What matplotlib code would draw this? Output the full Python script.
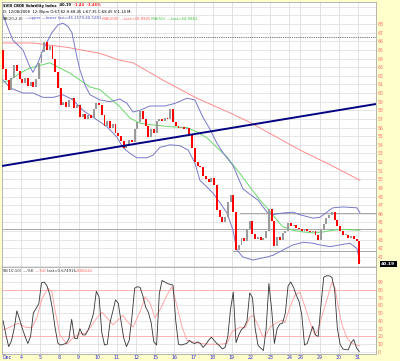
import matplotlib
matplotlib.use("Agg")
import matplotlib.pyplot as plt
import matplotlib.transforms as mtransforms
import numpy as np

W, H = 400, 361

# ---------------- data ----------------
first_open = 65.0
closes = [62.8, 61.5, 60.3, 61.8, 63.3, 62.5, 61.6, 61.2, 61.8, 60.8,
          61.3, 60.7, 61.6, 63.5, 64.8, 65.9, 65.0, 65.5, 64.0, 62.4,
          60.6, 58.6, 59.0, 58.4, 59.2, 59.4, 58.3, 58.6, 57.2, 57.6,
          57.0, 57.5, 57.1, 58.2, 58.9, 58.6, 57.4, 56.2, 56.8, 56.0,
          56.4, 55.4, 55.0, 54.4, 53.6, 54.0, 54.6, 54.3, 55.8, 56.6,
          57.9, 57.0, 56.2, 54.9, 55.8, 55.4, 56.8, 57.0, 56.8, 57.1,
          57.0, 58.2, 56.6, 56.2, 55.9, 56.1, 55.8, 55.9, 55.2, 53.6,
          52.0, 51.6, 51.4, 50.4, 50.0, 49.7, 50.1, 49.4, 46.5, 45.6,
          45.0, 45.6, 47.4, 48.2, 46.2, 41.8, 42.4, 43.2, 42.9, 44.2,
          45.2, 43.7, 43.1, 43.3, 43.0, 43.2, 44.0, 46.6, 45.2, 42.3,
          43.3, 43.0, 43.8, 44.0, 44.9, 44.6, 44.7, 44.4, 44.2, 44.0,
          44.2, 44.0, 43.9, 44.0, 43.6, 43.0, 44.1, 44.8, 45.5, 45.9,
          46.2, 45.3, 44.6, 44.0, 43.5, 43.5, 43.2, 43.4, 43.1, 42.9,
          40.19]

bb_upper_idx = [0, 2.3, 4.1, 7.7, 10.3, 11.4, 13.2, 15.0, 18.3, 20.5, 22.3, 24.2,
                25.6, 27.4, 28.5, 30.4, 32.2, 35.8, 39.5, 43.1, 45.7, 47.9, 50.4,
                54.1, 59.6, 63.2, 67.6, 70.5, 73.4, 76.0, 78.5, 80.7, 84.4, 88.0,
                91.7, 93.5, 96.8, 98.6, 102.6, 106.3, 108.8, 113.6, 116.1, 118.7,
                120.9, 124.5, 129.6, 130.7]
bb_upper = [69.4, 67.5, 66.1, 65.0, 63.0, 62.4, 63.5, 65.0, 67.0, 67.9, 68.1, 67.7,
            67.0, 64.2, 62.7, 60.9, 59.8, 59.2, 59.0, 59.3, 58.8, 57.8, 58.0,
            58.5, 58.5, 58.8, 59.4, 59.2, 57.2, 55.8, 54.2, 53.1, 51.6, 48.9,
            48.0, 47.6, 46.2, 45.9, 46.1, 46.2, 45.9, 45.5, 45.6, 46.2,
            46.7, 46.8, 46.7, 46.16]

bb_lower_idx = [0, 3.0, 7.7, 11.4, 15.0, 18.7, 22.3, 26.0, 29.6, 33.3, 38.4, 42.0,
                44.2, 46.8, 49.3, 53.0, 55.2, 57.7, 61.4, 65.0, 68.0, 70.5, 72.3,
                74.9, 77.1, 79.6, 82.2, 84.4, 85.8, 88.0, 91.7, 96.8, 99.0, 102.6,
                106.3, 110.0, 113.6, 116.1, 119.8, 123.4, 127.1, 129.6, 130.7]
bb_lower = [61.7, 60.6, 60.0, 60.0, 59.5, 59.5, 59.8, 59.2, 58.0, 57.2, 56.1, 54.9,
            53.7, 53.0, 52.5, 52.5, 52.8, 53.7, 54.0, 53.9, 53.4, 51.9, 49.9,
            49.1, 48.4, 47.3, 46.1, 44.1, 41.8, 41.0, 40.65, 41.0, 41.2, 41.8,
            42.4, 42.7, 42.6, 42.4, 42.2, 42.4, 42.6, 42.0, 40.53]

ma50_idx = [0, 3.0, 6.6, 10.3, 13.9, 17.6, 19.4, 21.2, 24.9, 28.5, 32.2, 35.8,
            39.5, 43.1, 46.8, 50.4, 55.2, 61.4, 67.6, 71.2, 74.9, 78.5, 82.2,
            85.1, 86.9, 90.6, 94.2, 96.8, 100.4, 102.6, 106.3, 110.0, 113.6,
            117.2, 120.9, 124.5, 130.7]
ma50 = [61.2, 61.5, 62.3, 62.9, 63.2, 63.5, 63.2, 62.9, 62.3, 61.5, 60.7, 60.4,
        59.4, 58.4, 57.1, 56.5, 56.3, 56.1, 56.0, 55.5, 54.8, 53.7, 52.6,
        51.4, 50.7, 49.1, 47.6, 46.7, 45.3, 44.5, 44.1, 43.9, 43.8,
        43.9, 44.1, 44.2, 44.09]

ma200_idx = [0, 11.4, 23.8, 35.8, 43.1, 47.9, 58.8, 71.2, 83.3, 90.6, 108.8,
             119.8, 130.7]
ma200 = [65.8, 65.8, 65.3, 64.6, 63.8, 63.5, 61.5, 59.4, 57.7, 56.6, 53.4,
         51.7, 49.89]

trend_idx = [0.07, 136.6]
trend_val = [51.55, 58.73]
dotted_level = 66.5
gray_levels = [46.1, 44.2, 41.7]
gray_from_idx = [87.0, 0.0, 84.4]

stoch_k = [40, 22, 7, 14, 30, 53, 42, 30, 20, 11,
           20, 50, 56, 62, 89, 90, 85, 74, 55, 30,
           11, 9, 10, 11, 17, 42, 18, 17, 30, 22,
           22, 28, 38, 50, 78, 71, 25, 9, 10, 38,
           52, 67, 63, 40, 18, 7, 15, 45, 82, 84,
           83, 72, 58, 51, 38, 13, 9, 75, 92, 90,
           88, 87, 86, 40, 10, 9, 10, 11, 15, 12,
           11, 13, 11, 6, 10, 15, 19, 15, 11, 8,
           4, 6, 20, 55, 77, 12, 22, 29, 32, 40,
           76, 70, 30, 9, 5, 2, 30, 88, 55, 11,
           30, 36, 37, 50, 85, 90, 83, 73, 65, 48,
           9, 11, 22, 33, 22, 20, 60, 96, 98, 98,
           96, 80, 30, 10, 4, 3, 3, 12, 16, 5,
           0.67]

stoch_d_idx = [0, 3.0, 5.9, 8.5, 11.0, 12.8, 14.7, 16.9, 18.3, 19.4, 21.2, 23.8,
               26.0, 28.5, 30.4, 32.2, 34.7, 36.6, 38.4, 40.6, 42.4, 44.2, 46.1,
               47.9, 50.4, 52.3, 54.1, 55.9, 57.7, 60.3, 62.1, 63.9, 65.8, 67.6,
               69.8, 72.3, 76.0, 79.6, 82.2, 84.0, 87.0, 88.8, 90.6, 91.7, 93.5,
               95.3, 96.8, 97.9, 100.4, 102.3, 103.4, 105.2, 107.0, 108.8, 110.7,
               112.5, 114.3, 115.4, 117.2, 119.0, 120.5, 121.6, 122.7, 124.2,
               126.0, 127.8, 129.6, 130.7]
stoch_d = [28, 32, 37, 32, 31, 44, 69, 82, 77, 54, 22, 10,
           18, 24, 24, 31, 44, 51, 44, 35, 41, 47, 38,
           32, 51, 71, 63, 44, 54, 73, 84, 60, 32, 15,
           13, 11, 10, 10, 11, 26, 32, 31, 45, 47, 35,
           19, 24, 32, 38, 41, 38, 58, 73, 77, 58,
           38, 22, 28, 50, 71, 90, 83, 60, 35,
           18, 11, 9, 8.08]

day_labels = ["Dec", "4", "5", "8", "9", "10", "11", "12", "15", "16", "17",
              "18", "19", "22", "23", "24", "26", "29", "30", "31"]
day_start_idx = [0, 7, 14, 21, 28, 35, 42, 49, 56, 63, 70,
                 77, 84, 91, 98, 105, 109, 116, 123, 130]

price_ticks = list(range(41, 69))
stoch_ticks = list(range(0, 100, 10))

# ---------------- figure ----------------
fig = plt.figure(figsize=(W / 100, H / 100), dpi=100, facecolor="#ffffcc")

def px_rect(x0, y0, x1, y1):
    return [x0 / W, 1 - y1 / H, (x1 - x0) / W, (y1 - y0) / H]

ax = fig.add_axes(px_rect(2, 2, 376, 267))
ax2 = fig.add_axes(px_rect(2, 267, 376, 353.5))

XMIN, XMAX = 0.07, 136.6
GRID = "#dcdcdc"
SPINE = "#a8a8a8"

for a in (ax, ax2):
    a.set_facecolor("white")
    a.set_xlim(XMIN, XMAX)
    for s in a.spines.values():
        s.set_color(SPINE)
        s.set_linewidth(0.6)
    a.set_xticks([])
    for d in day_start_idx[1:]:
        a.axvline(d, color=GRID, lw=0.6, zorder=0)

# main panel
ax.set_ylim(39.84, 70.55)
for v in range(40, 71):
    ax.axhline(v, color=GRID, lw=0.5, zorder=0)
ax.yaxis.set_ticks_position("right")
ax.set_yticks(price_ticks)
ax.set_yticklabels([str(t) for t in price_ticks])
ax.tick_params(axis="y", length=0, pad=1.2, labelsize=3.3, labelcolor="#ff7070",
               labelleft=False, labelright=True)

for lvl, start in zip(gray_levels, gray_from_idx):
    ax.plot([start, XMAX], [lvl, lvl], color="#9a9a9a", lw=0.6, zorder=1)
ax.axhline(dotted_level, color="#444444", lw=0.6, ls=(0, (1, 1.2)), zorder=1)

ax.plot(ma200_idx, ma200, color="#ff8c8c", lw=0.7, zorder=2)
ax.plot(ma50_idx, ma50, color="#6ad86a", lw=0.7, zorder=2)
ax.plot(bb_upper_idx, bb_upper, color="#7878c8", lw=0.7, zorder=2)
ax.plot(bb_lower_idx, bb_lower, color="#7878c8", lw=0.7, zorder=2)

opens = [first_open] + closes[:-1]
xs = np.arange(len(closes)) + 0.5
o = np.array(opens)
c = np.array(closes)
bottoms = np.minimum(o, c)
heights = np.maximum(np.abs(c - o), 0.12)
cols = ["#ff0000" if cc < oo else "#9a9a9a" for oo, cc in zip(o, c)]
ax.bar(xs, heights, bottom=bottoms, width=0.7, color=cols, linewidth=0, zorder=3)

ax.plot(trend_idx, trend_val, color="#000080", lw=1.4, zorder=4, solid_capstyle="butt")

ax.text(1.033, closes[-1], "40.19", transform=ax.get_yaxis_transform(),
        ha="center", va="center", color="white", fontsize=3.2, fontweight="bold",
        bbox=dict(facecolor="black", edgecolor="none", pad=0.9), clip_on=False, zorder=6)

# lower panel
ax2.set_ylim(-1.9, 109.3)
for v in range(0, 101, 10):
    ax2.axhline(v, color=GRID, lw=0.5, zorder=0)
ax2.axhline(80, color="#ffb4b4", lw=0.7, zorder=1)
ax2.axhline(20, color="#ffb4b4", lw=0.7, zorder=1)
ax2.yaxis.set_ticks_position("right")
ax2.set_yticks(stoch_ticks)
ax2.set_yticklabels([str(t) for t in stoch_ticks])
ax2.tick_params(axis="y", length=0, pad=1.2, labelsize=3.3, labelcolor="#ff7070",
                labelleft=False, labelright=True)
ax2.plot(stoch_d_idx, stoch_d, color="#ff9a9a", lw=0.6, zorder=2)
ax2.plot(np.arange(len(stoch_k)) + 0.5, stoch_k, color="#333333", lw=0.6, zorder=3)

# date labels
tr = ax2.get_xaxis_transform()
for lab, d in zip(day_labels, day_start_idx):
    if lab == "Dec":
        ax2.text(d + 0.1, -0.012, lab, transform=tr, ha="left", va="top",
                 fontsize=3.4, color="#2a2ad0", clip_on=False)
    else:
        ax2.text(d, -0.012, lab, transform=tr, ha="center", va="top",
                 fontsize=3.4, color="#2a2ad0", clip_on=False)

# header texts
renderer = fig.canvas.get_renderer()

def pieces(x_px, y_px, items, size):
    x = x_px
    for s, col, wt in items:
        t = fig.text(x / W, 1 - y_px / H, s, color=col, fontsize=size,
                     fontweight=wt, ha="left", va="center", zorder=10)
        x += t.get_window_extent(renderer=renderer).width

pieces(3, 5.5, [("$VIX CBOE Volatility Index", "black", "bold"),
                ("  40.19", "black", "bold"),
                ("  -1.44", "#ff2020", "bold"),
                ("  -3.46%", "#ff2020", "bold")], 2.6)
pieces(3, 12, [("D: 12/08/2008  12:30pm O:67.82 H:68.45 L:67.35 C:68.45 V:1.14 M:", "black", "normal")], 2.7)
pieces(3, 18.5, [("BB(20,2.0)", "#333333", "normal"),
                 (" \u2014upper \u2014lower last=46.1579,40.5281", "#5050c0", "normal"),
                 (" MA(200)", "#ff6060", "normal"),
                 (" \u2014last=49.8925", "#ff6060", "normal"),
                 (" MA(50)", "#40c040", "normal"),
                 (" \u2014last=44.0862", "#40c040", "normal")], 2.8)
pieces(3, 270.5, [("SS(10,10)", "#333333", "normal"),
                  (" \u2014%K", "#333333", "normal"),
                  (" \u2014%D", "#ff6060", "normal"),
                  (" last=0.674916,", "#333333", "normal"),
                  ("8.08242", "#ff6060", "normal")], 2.8)

fig.savefig("out.png", dpi=100, facecolor=fig.get_facecolor())
